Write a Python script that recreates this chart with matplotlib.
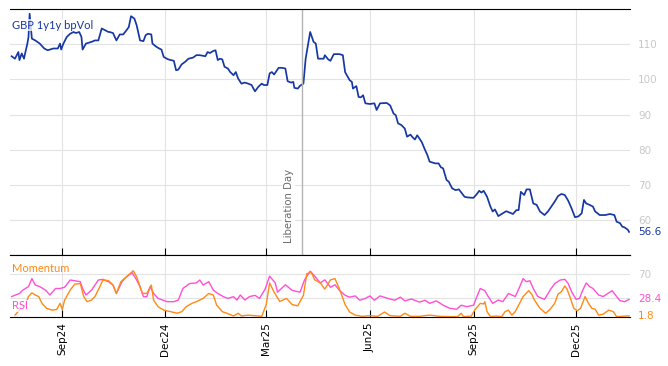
import matplotlib
matplotlib.use("Agg")
import matplotlib.pyplot as plt
import matplotlib.dates as mdates
import numpy as np
import pandas as pd

# all day values are days since 2024-07-01
start = pd.Timestamp("2024-07-01")

vol_day = [17, 20, 23, 24, 26, 28, 29, 31, 32, 33, 35, 38, 42, 46, 49, 54, 58, 60, 61, 63,
           66, 69, 72, 74, 77, 79, 80, 83, 88, 91, 94, 97, 100, 103, 104, 107, 110, 113, 116, 119,
           121, 123, 126, 128, 131, 134, 136, 138, 141, 142, 145, 148, 150, 152, 156, 161, 163, 165, 168, 171,
           174, 178, 181, 184, 189, 191, 193, 196, 198, 200, 202, 204, 206, 209, 211, 214, 216, 218, 221, 224,
           227, 230, 233, 236, 239, 241, 244, 246, 248, 250, 254, 257, 260, 262, 265, 267, 268, 271, 273, 276,
           278, 280, 282, 285, 287, 289, 294, 295, 298, 300, 303, 308, 311, 313, 314, 317, 319, 320, 323, 325,
           327, 329, 331, 335, 339, 341, 344, 350, 353, 356, 358, 360, 363, 366, 368, 371, 373, 375, 377, 381,
           384, 386, 388, 393, 396, 398, 400, 403, 405, 408, 411, 414, 419, 422, 427, 430, 432, 434, 436, 439,
           442, 444, 446, 449, 453, 456, 459, 462, 465, 467, 469, 472, 474, 477, 480, 483, 486, 490, 493, 496,
           499, 502, 505, 508, 511, 514, 517, 520, 523, 525, 527, 530, 533, 535, 539, 544, 548, 552, 554, 557,
           559, 561, 564, 565]
vol = [106.6, 105.9, 107.8, 105.5, 107.4, 105.9, 107.4, 110.2, 112.1, 118.7, 111.6, 111.1, 110.2, 108.8, 108.3, 108.8, 108.8, 110.2, 108.5, 110.2,
       112.1, 113.0, 113.5, 113.2, 113.5, 112.1, 108.5, 110.2, 110.7, 111.1, 111.1, 114.5, 114.0, 113.5, 113.5, 113.2, 111.1, 112.8, 112.8, 114.0,
       114.9, 118.0, 117.3, 115.4, 111.1, 110.9, 112.6, 113.0, 112.8, 110.2, 109.4, 108.8, 108.5, 106.4, 105.7, 105.3, 102.6, 102.8, 104.3, 105.0,
       105.9, 106.2, 106.9, 106.9, 106.6, 107.8, 107.5, 108.1, 108.3, 105.5, 105.9, 105.7, 103.6, 103.1, 102.1, 101.2, 102.1, 100.3, 98.8, 99.1,
       98.8, 98.4, 96.6, 97.9, 98.8, 98.4, 98.4, 101.7, 102.1, 101.4, 103.3, 103.3, 103.1, 99.5, 99.1, 99.3, 97.6, 97.4, 98.2, 98.8,
       105.9, 109.7, 113.5, 110.7, 110.2, 105.9, 105.9, 106.9, 105.7, 105.3, 107.2, 107.2, 106.9, 102.1, 101.5, 99.8, 99.3, 97.4, 98.1, 95.0,
       94.9, 95.5, 93.2, 93.0, 93.2, 91.3, 93.2, 93.3, 92.6, 90.3, 89.8, 87.5, 87.0, 86.0, 83.7, 84.3, 83.5, 82.9, 84.1, 82.2,
       79.9, 78.5, 76.6, 76.1, 76.1, 75.0, 74.7, 71.4, 70.9, 69.0, 68.5, 68.7, 66.6, 66.4, 66.3, 67.4, 68.3, 67.8, 68.3, 66.6,
       63.8, 62.4, 63.0, 61.1, 61.9, 62.5, 62.1, 61.7, 62.8, 62.8, 68.0, 67.1, 68.7, 68.7, 64.7, 64.3, 62.4, 61.4, 62.4, 63.8,
       65.2, 66.8, 67.4, 67.1, 65.5, 63.3, 60.8, 61.0, 61.9, 65.7, 64.7, 64.3, 63.8, 62.4, 61.4, 61.4, 61.7, 61.4, 59.5, 59.1,
       58.1, 57.9, 57.2, 56.6]

rsi_day = [17, 24, 27, 32, 35, 38, 42, 47, 51, 56, 60, 64, 69, 73, 78, 80, 83, 88, 94, 98,
           103, 107, 110, 115, 119, 124, 128, 131, 134, 137, 140, 143, 147, 155, 161, 165, 169, 175, 181, 184,
           187, 192, 196, 200, 205, 209, 214, 217, 220, 224, 228, 233, 237, 242, 246, 251, 253, 260, 266, 273,
           277, 282, 286, 291, 295, 300, 304, 308, 313, 317, 322, 326, 331, 335, 339, 344, 351, 357, 362, 366,
           372, 379, 384, 388, 394, 400, 406, 412, 416, 421, 427, 430, 433, 437, 440, 444, 449, 453, 458, 461,
           464, 467, 471, 474, 477, 480, 484, 490, 495, 499, 504, 508, 511, 514, 518, 521, 524, 527, 530, 533,
           538, 542, 547, 550, 554, 557, 561, 565]
rsi = [33, 38, 43.5, 49, 62, 51.6, 49, 43.5, 35.5, 46, 46, 48, 59.7, 58.6, 57, 46, 35.5, 43.5, 59.7, 60.8,
       57, 51.6, 38, 57, 65, 71.5, 59.7, 49, 32.8, 32.8, 49, 38, 30, 24.7, 24.7, 27.4, 46, 54, 55, 59.7,
       51.6, 57, 43.5, 38, 32.8, 30, 32.8, 27.4, 35.5, 27.4, 32.8, 35, 30, 45, 66, 55, 40, 52, 43, 40,
       60, 74, 66, 55, 60, 48, 52, 43, 35, 32, 34, 27, 30, 34, 27, 34, 30, 27, 32, 26,
       29, 24, 27, 22, 26, 19, 14, 12.5, 19, 16.6, 19, 33, 46, 42.5, 33, 22, 27.4, 24.7, 38, 35.5,
       33, 44.6, 62, 57, 58.6, 46, 33, 28.5, 43.5, 54, 59.7, 60.8, 54, 40.9, 28.5, 30, 43.5, 55, 49, 46,
       35.5, 33, 39, 42.5, 33, 26.3, 24.7, 28.4]

mom_day = [20, 24, 29, 32, 35, 38, 41, 44, 48, 53, 57, 60, 62, 64, 69, 73, 78, 81, 84, 88,
           91, 96, 98, 103, 107, 110, 114, 119, 125, 128, 133, 137, 141, 143, 147, 152, 158, 164, 168, 172,
           177, 181, 184, 187, 192, 196, 199, 204, 208, 214, 218, 221, 227, 233, 239, 243, 246, 250, 255, 261,
           266, 271, 276, 279, 283, 286, 291, 295, 300, 304, 308, 313, 317, 322, 328, 335, 342, 348, 353, 362,
           366, 371, 379, 388, 397, 406, 413, 416, 418, 425, 428, 433, 436, 437, 439, 442, 447, 452, 455, 458,
           461, 464, 467, 471, 476, 479, 481, 486, 491, 495, 499, 502, 505, 508, 510, 513, 516, 519, 522, 526,
           529, 532, 535, 538, 542, 547, 551, 554, 565]
mom = [3, 11, 19, 33, 39, 35.5, 33, 22, 14, 11, 12, 22, 12, 27, 43.5, 53, 54, 33, 24.7, 27.4,
       33, 51.6, 59.7, 58.6, 51.6, 38, 57, 65, 74.7, 65, 38, 38, 51.6, 27.4, 16.6, 11, 8.6, 6, 8.6, 16.6,
       22, 24.7, 27.4, 30, 38, 35.5, 19, 8.6, 6, 1.6, 6, 1.6, 3, 2, 1, 20, 55, 40, 25, 30,
       20, 18, 35, 70, 72, 60, 55, 45, 60, 62, 45, 20, 8, 3, 1, 2, 1, 8, 2, 1,
       6, 1, 1, 3, 1, 0.5, 0.5, 6, 0.5, 1.5, 11, 22, 21, 24.7, 8.6, 0.5, 1.5, 0.5, 8.6, 11,
       3, 8.6, 19, 33, 42.5, 35.5, 27.4, 14, 6, 12.4, 22, 37, 41, 50, 45, 30, 14, 10, 14, 33,
       22, 14, 12.5, 3, 4.5, 11, 8.6, 0.5, 1.8]

liberation_day = "2025-04-02"
month_ticks = ["2024-09-01", "2024-12-01", "2025-03-01", "2025-06-01", "2025-09-01", "2025-12-01"]
x_range = (15.6, 565.8)

c_vol = "#1737a3"
c_rsi = "#ff4fd6"
c_mom = "#ff8a14"
c_grid = "#e3e3e3"


def to_dates(days):
    return start + pd.to_timedelta(days, unit="D")


fig = plt.figure(figsize=(6.68, 3.66), dpi=100)
ax = fig.add_axes([0.015, 0.303, 0.928, 0.672])
ax2 = fig.add_axes([0.015, 0.134, 0.928, 0.169], sharex=ax)

xlo, xhi = to_dates(list(x_range))

for a in (ax, ax2):
    for s in ("left", "right"):
        a.spines[s].set_visible(False)
    a.spines["top"].set_color("black")
    a.spines["bottom"].set_color("black")
    a.grid(True, color=c_grid, lw=0.8)
    a.set_axisbelow(True)
    a.yaxis.tick_right()
    a.tick_params(axis="y", length=0, pad=6, labelsize=7.5, labelcolor="#c8c8c8")
    a.tick_params(axis="x", direction="in", length=5, color="black")
    a.set_xticks(pd.to_datetime(month_ticks))

# main vol panel
ax.plot(to_dates(vol_day), vol, color=c_vol, lw=1.25)
ax.set_ylim(50, 120)
ax.set_yticks([60, 70, 80, 90, 100, 110])
ax.set_xlim(xlo, xhi)
ax.tick_params(axis="x", labelbottom=False)

lib = pd.Timestamp(liberation_day)
ax.axvline(lib, color="#b4b4b4", lw=1)
ax.text(lib - pd.Timedelta(days=12), 53.5, "Liberation Day", rotation=90, fontsize=7.3,
        color="#6a6a6a", ha="center", va="bottom",
        bbox=dict(facecolor="white", edgecolor="none", pad=1))

ax.text(0.004, 0.935, "GBP 1y1y bpVol", transform=ax.transAxes, fontsize=8, color=c_vol,
        family="Lato", va="center", ha="left",
        bbox=dict(facecolor="white", edgecolor="none", alpha=0.75, pad=0.5))
ax.annotate(f"{vol[-1]:.1f}", xy=(1, vol[-1]), xycoords=("axes fraction", "data"),
            xytext=(6, 0), textcoords="offset points", fontsize=7.5, color=c_vol, va="center")

# indicator panel
ax2.plot(to_dates(rsi_day), rsi, color=c_rsi, lw=1)
ax2.plot(to_dates(mom_day), mom, color=c_mom, lw=1)
ax2.set_ylim(0, 100)
ax2.set_yticks([30, 70])
ax2.set_yticklabels(["", "70"])
ax2.xaxis.set_major_formatter(mdates.DateFormatter("%b%y"))
ax2.tick_params(axis="x", labelrotation=90, labelsize=7.5, pad=4)

ax2.text(0.004, 0.78, "Momentum", transform=ax2.transAxes, fontsize=8, color=c_mom,
         family="Lato", va="center", ha="left")
ax2.text(0.004, 0.18, "RSI", transform=ax2.transAxes, fontsize=8, color=c_rsi,
         family="Lato", va="center", ha="left",
         bbox=dict(facecolor="white", edgecolor="none", alpha=0.75, pad=0.5))
ax2.annotate(f"{rsi[-1]:.1f}", xy=(1, rsi[-1]), xycoords=("axes fraction", "data"),
             xytext=(6, 0), textcoords="offset points", fontsize=7.5, color=c_rsi, va="center")
ax2.annotate(f"{mom[-1]:.1f}", xy=(1, mom[-1]), xycoords=("axes fraction", "data"),
             xytext=(6, 0), textcoords="offset points", fontsize=7.5, color=c_mom, va="center")

fig.savefig("out.png", dpi=100)
